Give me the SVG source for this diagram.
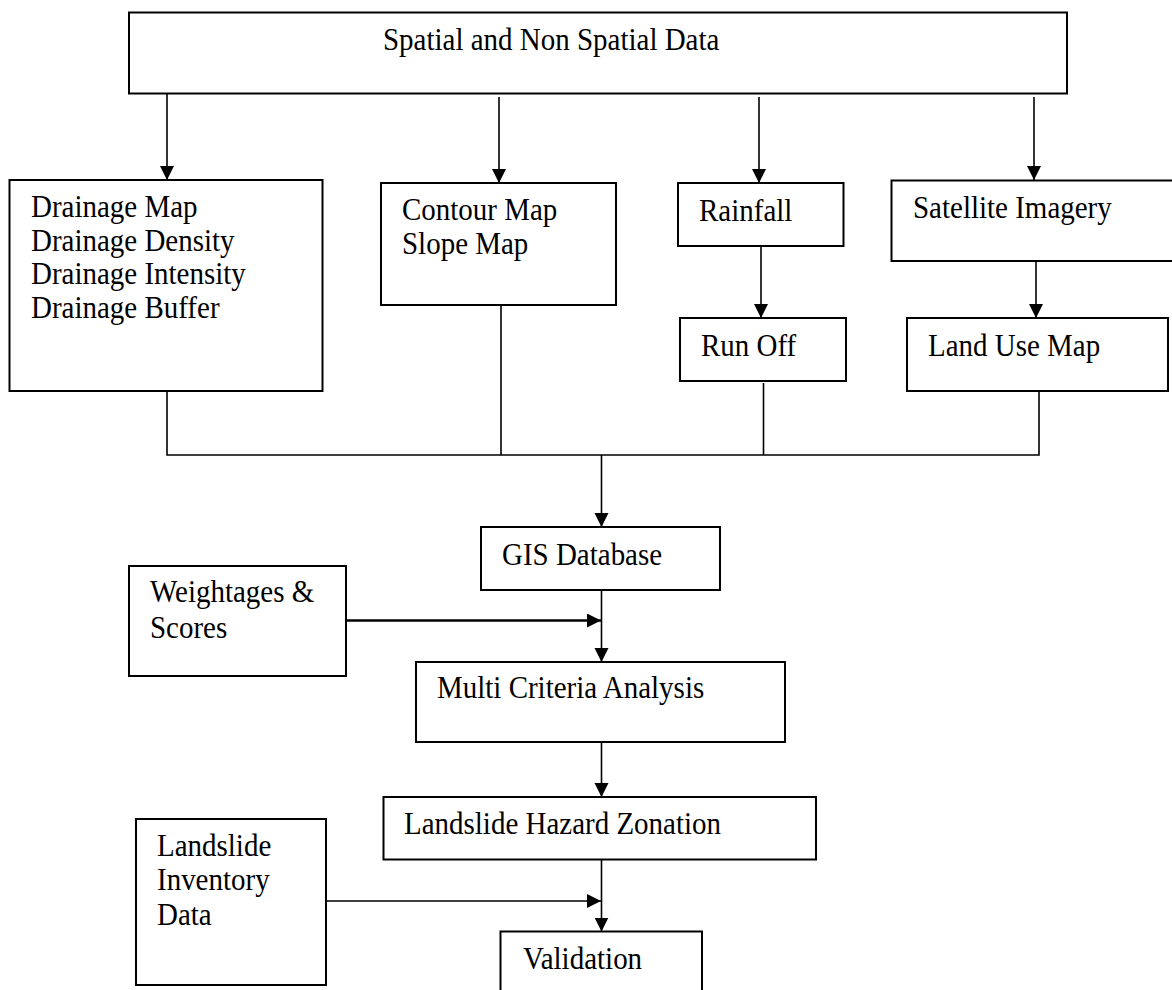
<svg xmlns="http://www.w3.org/2000/svg" width="1172" height="990" viewBox="0 0 1172 990">
<style>
.box{fill:#fff;stroke:#000;stroke-width:2}
.t{font-family:"Liberation Serif","Times New Roman",serif;font-size:29px;fill:#000;transform-box:fill-box;transform-origin:0 100%;transform:scaleY(1.12)}
.c{fill:none;stroke:#000;stroke-width:1.6}
.a{fill:none;stroke:#000;stroke-width:1.6;marker-end:url(#ah)}
.a2{fill:none;stroke:#000;stroke-width:2.4;marker-end:url(#ah)}
</style>
<defs>
<marker id="ah" markerUnits="userSpaceOnUse" markerWidth="15" markerHeight="15" refX="14" refY="7" orient="auto">
<path d="M0,0 L14,7 L0,14 z" fill="#000"/>
</marker>
</defs>
<rect width="1172" height="990" fill="#fff"/>
<g id="connectors">
<line class="a" x1="167" y1="93" x2="167" y2="180"/>
<line class="a" x1="499" y1="97" x2="499" y2="183"/>
<line class="a" x1="759" y1="97" x2="759" y2="183"/>
<line class="a" x1="1034" y1="97" x2="1034" y2="180"/>
<line class="a" x1="761" y1="246" x2="761" y2="318"/>
<line class="a" x1="1036" y1="261" x2="1036" y2="318"/>
<polyline class="c" points="167,391 167,455 1039,455 1039,391"/>
<line class="c" x1="501" y1="305" x2="501" y2="455"/>
<line class="c" x1="763.5" y1="383" x2="763.5" y2="455"/>
<line class="a" x1="601.5" y1="455" x2="601.5" y2="527"/>
<line class="a" x1="601.5" y1="590" x2="601.5" y2="662"/>
<line class="a2" x1="346" y1="620.5" x2="601" y2="620.5"/>
<line class="a" x1="601.5" y1="742" x2="601.5" y2="797"/>
<line class="a" x1="326" y1="901" x2="601" y2="901"/>
<line class="a" x1="601.5" y1="859.5" x2="601.5" y2="931.5"/>
</g>
<g id="spatial">
<rect class="box" x="129" y="12.5" width="938" height="81"/>
<text class="t" x="383" y="51">Spatial and Non Spatial Data</text>
</g>
<g id="drainage">
<rect class="box" x="9.5" y="180" width="313" height="211"/>
<text class="t" x="31" y="218">Drainage Map</text>
<text class="t" x="31" y="252">Drainage Density</text>
<text class="t" x="31" y="285">Drainage Intensity</text>
<text class="t" x="31" y="319">Drainage Buffer</text>
</g>
<g id="contour">
<rect class="box" x="381" y="183" width="235" height="122"/>
<text class="t" x="402" y="221">Contour Map</text>
<text class="t" x="402" y="255">Slope Map</text>
</g>
<g id="rainfall">
<rect class="box" x="678" y="183" width="165.5" height="63"/>
<text class="t" x="699" y="222">Rainfall</text>
</g>
<g id="satellite">
<rect class="box" x="891.5" y="180.5" width="285" height="80.5"/>
<text class="t" x="913" y="219">Satellite Imagery</text>
</g>
<g id="runoff">
<rect class="box" x="680" y="318" width="166" height="63"/>
<text class="t" x="701" y="357">Run Off</text>
</g>
<g id="landuse">
<rect class="box" x="907" y="318" width="261" height="73"/>
<text class="t" x="928" y="357">Land Use Map</text>
</g>
<g id="gis">
<rect class="box" x="481" y="527" width="239" height="63"/>
<text class="t" x="502" y="566">GIS Database</text>
</g>
<g id="weightages">
<rect class="box" x="129" y="566" width="217" height="110"/>
<text class="t" x="150" y="603">Weightages &amp;</text>
<text class="t" x="150" y="639">Scores</text>
</g>
<g id="mca">
<rect class="box" x="416" y="662" width="369" height="80"/>
<text class="t" x="437" y="699">Multi Criteria Analysis</text>
</g>
<g id="lhz">
<rect class="box" x="383.5" y="797" width="432.5" height="62.5"/>
<text class="t" x="404" y="835">Landslide Hazard Zonation</text>
</g>
<g id="inventory">
<rect class="box" x="136" y="819" width="190" height="166"/>
<text class="t" x="157" y="857">Landslide</text>
<text class="t" x="157" y="891">Inventory</text>
<text class="t" x="157" y="926">Data</text>
</g>
<g id="validation">
<rect class="box" x="500.5" y="931.5" width="201.5" height="70"/>
<text class="t" x="523" y="970">Validation</text>
</g>
</svg>
